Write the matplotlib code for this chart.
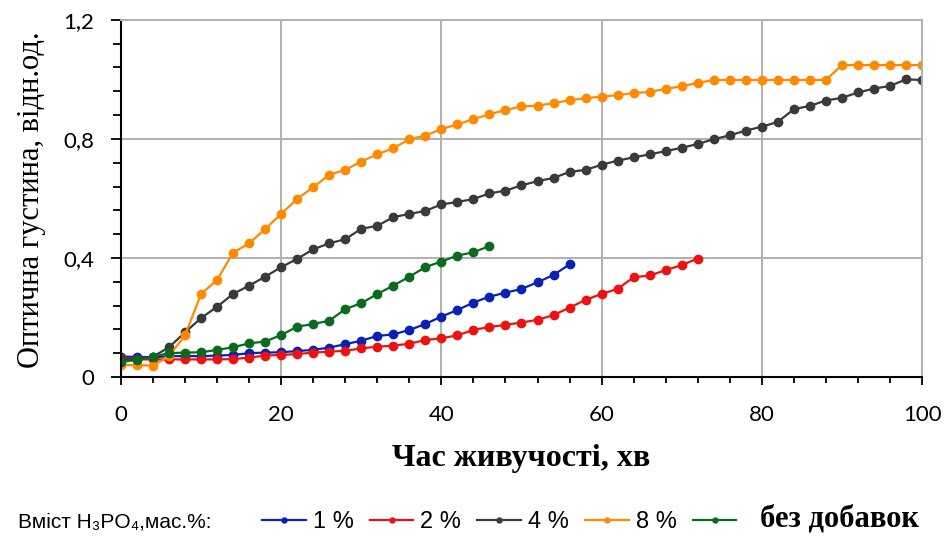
#!/usr/bin/env python3
"""Оптична густина vs час живучості для різного вмісту H3PO4."""

import matplotlib
matplotlib.use("Agg")
import matplotlib.pyplot as plt
from matplotlib.ticker import MultipleLocator, FuncFormatter

# -------------------- DATA -------------------- #
time_1 = list(range(0, 57, 2))
od_1 = [0.068, 0.068, 0.066, 0.07, 0.07, 0.07, 0.072, 0.074, 0.08, 0.082,
        0.083, 0.087, 0.091, 0.099, 0.11, 0.122, 0.138, 0.143, 0.158, 0.178,
        0.203, 0.225, 0.25, 0.27, 0.283, 0.296, 0.318, 0.343, 0.378]

time_2 = list(range(0, 73, 2))
od_2 = [0.063, 0.059, 0.059, 0.059, 0.059, 0.059, 0.059, 0.06, 0.065, 0.072,
        0.074, 0.077, 0.082, 0.085, 0.088, 0.096, 0.102, 0.105, 0.112, 0.124,
        0.13, 0.14, 0.158, 0.168, 0.175, 0.183, 0.192, 0.208, 0.233, 0.259,
        0.279, 0.296, 0.335, 0.341, 0.359, 0.376, 0.398]

time_4 = list(range(0, 101, 2))
od_4 = [0.06, 0.062, 0.068, 0.10, 0.15, 0.198, 0.236, 0.279, 0.307, 0.337,
        0.369, 0.397, 0.429, 0.449, 0.463, 0.498, 0.508, 0.537, 0.548, 0.558,
        0.58, 0.588, 0.598, 0.617, 0.626, 0.644, 0.658, 0.669, 0.689, 0.696,
        0.713, 0.727, 0.738, 0.748, 0.759, 0.77, 0.783, 0.799, 0.812, 0.828,
        0.841, 0.857, 0.90, 0.911, 0.929, 0.938, 0.956, 0.969, 0.978, 1.0,
        0.998]

time_8 = list(range(0, 101, 2))
od_8 = [0.04, 0.04, 0.038, 0.07, 0.14, 0.279, 0.326, 0.418, 0.449, 0.497,
        0.548, 0.598, 0.638, 0.679, 0.696, 0.724, 0.748, 0.769, 0.799, 0.811,
        0.833, 0.849, 0.866, 0.883, 0.897, 0.909, 0.912, 0.92, 0.93, 0.937,
        0.942, 0.947, 0.954, 0.958, 0.968, 0.977, 0.988, 0.998, 0.998, 0.998,
        0.998, 0.998, 0.998, 0.998, 0.998, 1.048, 1.048, 1.048, 1.048, 1.048,
        1.048]

time_0 = list(range(0, 47, 2))
od_0 = [0.051, 0.057, 0.068, 0.08, 0.082, 0.083, 0.091, 0.10, 0.113, 0.119,
        0.141, 0.169, 0.178, 0.189, 0.228, 0.248, 0.279, 0.307, 0.337, 0.369,
        0.388, 0.408, 0.419, 0.44]

series = [
    (time_1, od_1, "#0a22b4", "1 %"),
    (time_2, od_2, "#ee1111", "2 %"),
    (time_4, od_4, "#3a3a3a", "4 %"),
    (time_8, od_8, "#ff8a00", "8 %"),
    (time_0, od_0, "#0b6a1e", " "),
]

x_label = "Час живучості, хв"
y_label = "Оптична густина, відн.од."
legend_title = "Вміст H₃PO₄,мас.%:"
no_additive = "без добавок"
# ---------------------------------------------- #

sans = ["Lato", "DejaVu Sans"]
narrow = ["Liberation Sans Narrow", "Liberation Sans", "DejaVu Sans"]
serif = ["Liberation Serif", "DejaVu Serif"]

fig = plt.figure(figsize=(9.48, 5.37), dpi=100)
ax = fig.add_axes([0.1276, 0.298, 0.845, 0.665])

for t, od, color, label in series:
    ax.plot(t, od, color=color, lw=1.6, marker="o", ms=6, label=label)

ax.set_xlim(0, 100)
ax.set_ylim(0, 1.2)
ax.xaxis.set_major_locator(MultipleLocator(20))
ax.xaxis.set_minor_locator(MultipleLocator(4))
ax.yaxis.set_major_locator(MultipleLocator(0.4))
ax.yaxis.set_minor_locator(MultipleLocator(0.08))
ax.yaxis.set_major_formatter(FuncFormatter(
    lambda v, p: "0" if abs(v) < 1e-9 else f"{v:.1f}".replace(".", ",")))

ax.grid(True, which="major", color="#b0b0b0", lw=1.4)
ax.set_axisbelow(True)
for side in ("top", "right"):
    ax.spines[side].set_color("#b0b0b0")
    ax.spines[side].set_linewidth(1.4)
for side in ("left", "bottom"):
    ax.spines[side].set_color("black")
    ax.spines[side].set_linewidth(1.5)

ax.tick_params(which="both", direction="out", color="black", width=1.3)
ax.tick_params(axis="x", which="major", length=6, pad=14)
ax.tick_params(axis="x", which="minor", length=4)
ax.tick_params(axis="y", which="major", length=7, pad=12)
ax.tick_params(axis="y", which="minor", length=6)
for lbl in ax.get_xticklabels() + ax.get_yticklabels():
    lbl.set_family(sans)
    lbl.set_fontsize(16)

ax.set_xlabel(x_label, family=serif, fontsize=23, fontweight="bold", labelpad=14)
ax.set_ylabel(y_label, family=serif, fontsize=22)
ax.yaxis.set_label_coords(-0.093, 0.496)

fig.text(0.019, 0.028, legend_title, family=narrow, fontsize=15,
         va="center", ha="left")

leg = fig.legend(loc="center left", bbox_to_anchor=(0.2764, 0.028), ncol=5,
                 frameon=False, prop={"family": narrow, "size": 17},
                 handlelength=1.85, handletextpad=0.3, columnspacing=0.68,
                 markerscale=0.6, borderaxespad=0, borderpad=0)
fig.text(0.802, 0.034, no_additive, family=serif, fontsize=22,
         fontweight="bold", va="center", ha="left")

fig.savefig("out.png", dpi=100)
